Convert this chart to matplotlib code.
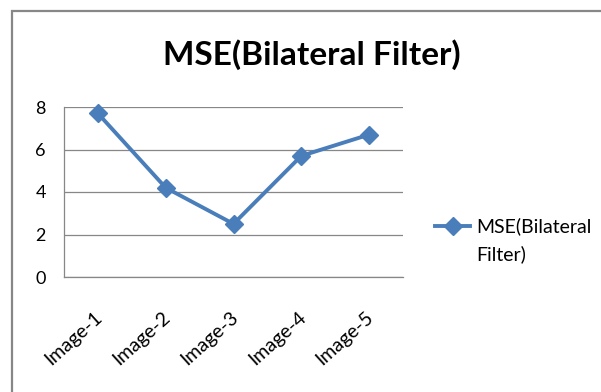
import matplotlib
matplotlib.use("Agg")
import matplotlib.pyplot as plt
from matplotlib.lines import Line2D
from matplotlib.patches import Rectangle
from matplotlib.transforms import ScaledTranslation

categories = ["Image-1", "Image-2", "Image-3", "Image-4", "Image-5"]
mse_values = [7.7, 4.2, 2.5, 5.7, 6.7]
y_ticks = [0, 2, 4, 6, 8]
series_name = "MSE(Bilateral Filter)"

plt.rcParams["font.family"] = ["Lato", "DejaVu Sans"]

W, H = 601, 392
fig = plt.figure(figsize=(W / 100, H / 100), dpi=100)

# chart frame
fig.patches.append(Rectangle((12 / W, -0.01), 1.0, 1 - 11 / H + 0.01,
                             transform=fig.transFigure, fill=False,
                             edgecolor="#878787", linewidth=1.6))

ax = fig.add_axes([64 / W, 1 - 277 / H, (403 - 64) / W, (277 - 107) / H])
line_color = "#4a7ebb"
ax.plot(range(len(categories)), mse_values, color=line_color, linewidth=2.8,
        marker="D", markersize=9, markeredgecolor=line_color, zorder=3,
        clip_on=False)

ax.set_xlim(-0.5, len(categories) - 0.5)
ax.set_ylim(0, 8)
ax.set_yticks(y_ticks)
ax.set_yticklabels([str(v) for v in y_ticks], fontsize=13)
ax.set_xticks(range(len(categories)))
ax.set_xticklabels(categories, rotation=42, ha="right", va="center",
                   rotation_mode="anchor", fontsize=14)
ax.tick_params(axis="y", length=0, pad=13)
ax.tick_params(axis="x", length=0, pad=27)
shift = ScaledTranslation(1.5 / 72, 0, fig.dpi_scale_trans)
for lbl in ax.get_xticklabels():
    lbl.set_transform(lbl.get_transform() + shift)
ax.yaxis.grid(True, color="#878787", linewidth=0.9)
ax.set_axisbelow(True)
for side in ["top", "right"]:
    ax.spines[side].set_visible(False)
ax.spines["left"].set_color("#878787")
ax.spines["bottom"].set_color("#878787")
ax.spines["left"].set_linewidth(0.9)
ax.spines["bottom"].set_linewidth(0.9)

fig.text(312 / W, 1 - 55 / H, series_name, ha="center", va="center",
         fontsize=24, fontweight="bold")

# legend entry
fig.add_artist(Line2D([435 / W, 470 / W], [1 - 226 / H, 1 - 226 / H],
                      transform=fig.transFigure, color=line_color,
                      linewidth=2.8))
fig.add_artist(Line2D([452.5 / W], [1 - 226 / H], transform=fig.transFigure,
                      color=line_color, marker="D", markersize=9))
fig.text(476 / W, 1 - 226 / H, "MSE(Bilateral", ha="left", va="center",
         fontsize=14)
fig.text(476 / W, 1 - 254 / H, "Filter)", ha="left", va="center", fontsize=14)

fig.savefig("out.png", dpi=100)
